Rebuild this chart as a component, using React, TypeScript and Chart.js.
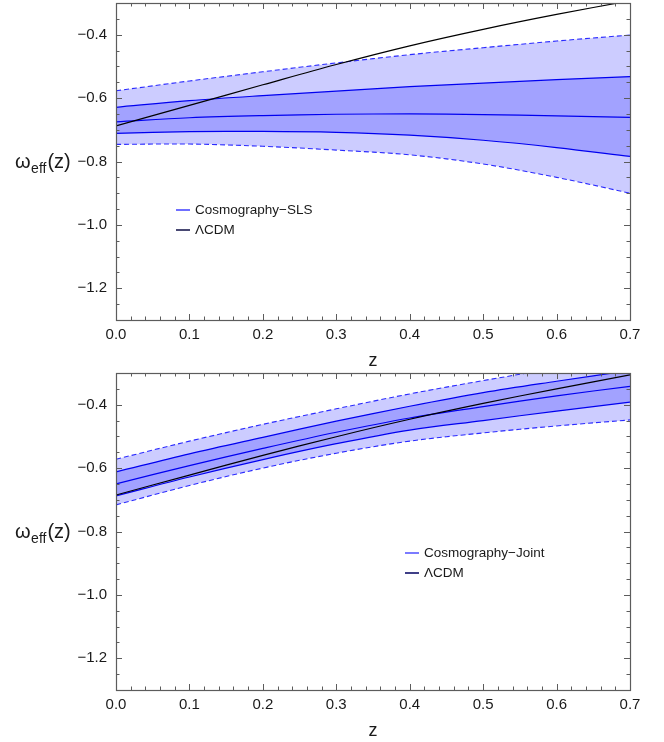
import React, { useEffect, useRef } from 'react';
import { Chart, registerables } from 'chart.js';

Chart.register(...registerables);

// Redshift grid shared by every curve
const zGrid = [0, 0.1, 0.2, 0.3, 0.4, 0.5, 0.6, 0.7];

// Upper panel: Cosmography-SLS reconstruction
const slsUpper2 = [-0.577, -0.546, -0.517, -0.489, -0.463, -0.441, -0.420, -0.401];
const slsUpper1 = [-0.629, -0.608, -0.592, -0.578, -0.564, -0.553, -0.542, -0.532];
const slsMean = [-0.675, -0.662, -0.655, -0.651, -0.650, -0.652, -0.656, -0.661];
const slsLower1 = [-0.711, -0.706, -0.705, -0.708, -0.717, -0.733, -0.756, -0.784];
const slsLower2 = [-0.746, -0.745, -0.752, -0.764, -0.779, -0.808, -0.850, -0.900];
const lcdmUpper = [-0.688, -0.623, -0.558, -0.494, -0.435, -0.383, -0.336, -0.293];

// Lower panel: Cosmography-Joint reconstruction
const jointUpper2 = [-0.572, -0.515, -0.462, -0.413, -0.366, -0.324, -0.285, -0.250];
const jointUpper1 = [-0.612, -0.555, -0.503, -0.452, -0.405, -0.362, -0.326, -0.292];
const jointMean = [-0.650, -0.592, -0.538, -0.487, -0.442, -0.406, -0.372, -0.342];
const jointLower1 = [-0.688, -0.628, -0.573, -0.523, -0.480, -0.450, -0.420, -0.392];
const jointLower2 = [-0.716, -0.655, -0.600, -0.553, -0.515, -0.489, -0.467, -0.448];
const lcdmLower = [-0.685, -0.622, -0.560, -0.501, -0.446, -0.396, -0.350, -0.306];

// Axis ticks
const xTickValues = [0, 0.1, 0.2, 0.3, 0.4, 0.5, 0.6, 0.7];
const yTickValues = [-1.2, -1.0, -0.8, -0.6, -0.4];

const FONT = '"Liberation Sans", Arial, Helvetica, sans-serif';
const TEXT = '#1a1a1a';
const FRAME = '#5c5c5c';

const fmt = (v: number) => (v < -1e-9 ? '\u2212' : '') + Math.abs(v).toFixed(1);
const pts = (ys: number[]) => zGrid.map((z, i) => ({ x: z, y: ys[i] }));

interface PanelSpec {
  upper2: number[];
  upper1: number[];
  mean: number[];
  lower1: number[];
  lower2: number[];
  lcdm: number[];
  legendName: string;
  legendX: number;
  legendY: number;
  legendColors: [string, string];
  top: number;
  bottom: number;
}

const H = 371;

function makeDecor(spec: PanelSpec) {
  return {
    id: 'frameDecor',
    afterDatasetsDraw(chart: any) {
      const { ctx, chartArea: a, scales } = chart;
      const xs = scales.x;
      const ys = scales.y;
      ctx.save();

      // frame with inward ticks on all four sides
      ctx.strokeStyle = FRAME;
      ctx.lineWidth = 1;
      ctx.beginPath();
      for (let i = 0; i <= 35; i++) {
        const px = Math.round(xs.getPixelForValue(i * 0.02)) + 0.5;
        const len = i % 5 === 0 ? 6 : 3.5;
        ctx.moveTo(px, a.bottom);
        ctx.lineTo(px, a.bottom - len);
        ctx.moveTo(px, a.top);
        ctx.lineTo(px, a.top + len);
      }
      for (let i = 0; i <= 20; i++) {
        const v = -1.3 + i * 0.05;
        const py = Math.round(ys.getPixelForValue(v)) + 0.5;
        const major = Math.abs(v * 5 - Math.round(v * 5)) < 1e-6;
        const len = major ? 6 : 3.5;
        ctx.moveTo(a.left, py);
        ctx.lineTo(a.left + len, py);
        ctx.moveTo(a.right, py);
        ctx.lineTo(a.right - len, py);
      }
      ctx.stroke();
      ctx.lineWidth = 1.2;
      ctx.strokeRect(Math.round(a.left) + 0.5, Math.round(a.top) + 0.5,
        Math.round(a.right) - Math.round(a.left), Math.round(a.bottom) - Math.round(a.top));

      // tick labels
      ctx.fillStyle = TEXT;
      ctx.font = `15px ${FONT}`;
      ctx.textAlign = 'center';
      ctx.textBaseline = 'middle';
      xTickValues.forEach((v) => {
        ctx.fillText(fmt(v), xs.getPixelForValue(v), a.bottom + 15);
      });
      ctx.textAlign = 'right';
      yTickValues.forEach((v) => {
        ctx.fillText(fmt(v), a.left - 9, ys.getPixelForValue(v));
      });

      // x-axis title
      ctx.textAlign = 'center';
      ctx.font = `18px ${FONT}`;
      ctx.fillText('z', (a.left + a.right) / 2, a.bottom + 41);

      // y-axis title: ω_eff(z)
      ctx.textAlign = 'left';
      ctx.textBaseline = 'alphabetic';
      const base = ys.getPixelForValue(-0.8) + 6;
      let x = 15;
      ctx.font = `20px ${FONT}`;
      ctx.fillText('\u03c9', x, base);
      x += ctx.measureText('\u03c9').width + 0.5;
      ctx.font = `14px ${FONT}`;
      ctx.fillText('eff', x, base + 5);
      x += ctx.measureText('eff').width + 1;
      ctx.font = `20px ${FONT}`;
      ctx.fillText('(z)', x, base);

      // legend
      const names = [spec.legendName, '\u039bCDM'];
      ctx.font = `13.5px ${FONT}`;
      ctx.textBaseline = 'middle';
      names.forEach((n, i) => {
        const y = spec.legendY + i * 20;
        ctx.strokeStyle = spec.legendColors[i];
        ctx.lineWidth = 1.6;
        ctx.beginPath();
        ctx.moveTo(spec.legendX, y);
        ctx.lineTo(spec.legendX + 14, y);
        ctx.stroke();
        ctx.fillStyle = TEXT;
        ctx.fillText(n, spec.legendX + 19, y);
      });

      ctx.restore();
    },
  };
}

function Panel({ spec }: { spec: PanelSpec }) {
  const ref = useRef<HTMLCanvasElement>(null);

  useEffect(() => {
    const solid = { borderColor: '#0000f0', borderWidth: 1.2, fill: false };
    const dashed = { borderColor: '#2a2aff', borderWidth: 1.1, borderDash: [5, 3] };
    const chart = new Chart(ref.current as HTMLCanvasElement, {
      type: 'line',
      data: {
        datasets: [
          { label: 'LCDM', data: pts(spec.lcdm), borderColor: '#000000', borderWidth: 1.2, fill: false },
          { label: 'mean', data: pts(spec.mean), ...solid },
          { label: 'lower1', data: pts(spec.lower1), ...solid },
          { label: 'upper1', data: pts(spec.upper1), ...solid, fill: 2, backgroundColor: '#a2a2ff' },
          { label: 'lower2', data: pts(spec.lower2), ...dashed, fill: false },
          { label: 'upper2', data: pts(spec.upper2), ...dashed, fill: 4, backgroundColor: '#ccccff' },
        ] as any,
      },
      options: {
        animation: false,
        responsive: false,
        devicePixelRatio: 1,
        layout: { padding: { left: 116, right: 34, top: spec.top, bottom: H - spec.bottom } },
        scales: {
          x: { type: 'linear', min: 0, max: 0.7, display: false },
          y: { type: 'linear', min: -1.3, max: -0.3, display: false },
        },
        elements: {
          point: { radius: 0 },
          line: { tension: 0.35 },
        },
        plugins: {
          legend: { display: false },
          tooltip: { enabled: false },
        },
      } as any,
      plugins: [makeDecor(spec)],
    });
    return () => chart.destroy();
  }, [spec]);

  return <canvas ref={ref} width={664} height={H} style={{ display: 'block' }} />;
}

const topSpec: PanelSpec = {
  upper2: slsUpper2,
  upper1: slsUpper1,
  mean: slsMean,
  lower1: slsLower1,
  lower2: slsLower2,
  lcdm: lcdmUpper,
  legendName: 'Cosmography\u2212SLS',
  legendX: 176,
  legendY: 210,
  legendColors: ['#4c4cff', '#1c1c50'],
  top: 3,
  bottom: 320,
};

const bottomSpec: PanelSpec = {
  upper2: jointUpper2,
  upper1: jointUpper1,
  mean: jointMean,
  lower1: jointLower1,
  lower2: jointLower2,
  lcdm: lcdmLower,
  legendName: 'Cosmography\u2212Joint',
  legendX: 405,
  legendY: 182,
  legendColors: ['#5a5aff', '#10106a'],
  top: 2,
  bottom: 319,
};

export default function App() {
  useEffect(() => {
    document.body.style.margin = '0';
  }, []);
  return (
    <div style={{ position: 'absolute', left: 0, top: 0, width: 664, height: 742, background: '#ffffff' }}>
      <Panel spec={topSpec} />
      <Panel spec={bottomSpec} />
    </div>
  );
}
